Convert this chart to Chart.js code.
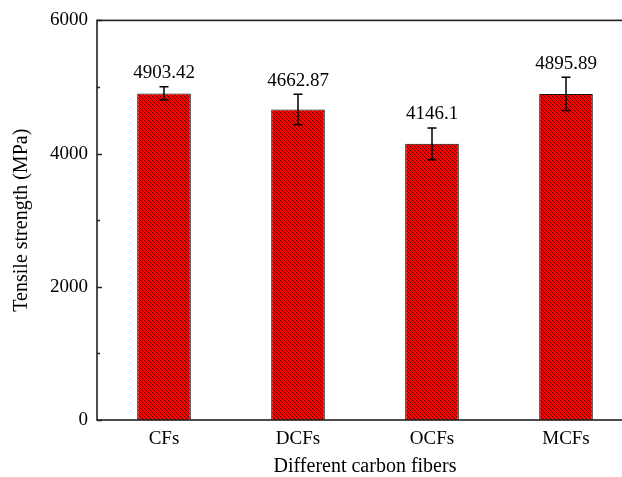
<!DOCTYPE html>
<html>
<head>
<meta charset="utf-8">
<script src="https://cdn.jsdelivr.net/npm/chart.js@4"></script>
<style>
  html, body { margin: 0; padding: 0; background: #fff; overflow: hidden; }
  #wrap { width: 650px; height: 477px; }
</style>
</head>
<body>
<div id="wrap"><canvas id="myChart" width="650" height="477"></canvas></div>
<script>
// data
const categories = ["CFs", "DCFs", "OCFs", "MCFs"];
const strengths = [4903.42, 4662.87, 4146.1, 4895.89];
const errors = [100, 230, 240, 250];
const majorTicks = [0, 2000, 4000, 6000];
const minorTicks = [1000, 3000, 5000];

const FONT = "'Liberation Serif', 'Times New Roman', serif";

// red fill with dark "\" hatching, drawn pixel by pixel so it stays crisp
function makeHatch() {
  const c = document.createElement("canvas");
  c.width = 4;
  c.height = 4;
  const g = c.getContext("2d");
  g.fillStyle = "#ff0000";
  g.fillRect(0, 0, 4, 4);
  g.fillStyle = "#5a0000";
  for (let i = 0; i < 4; i++) {
    g.fillRect(i, i, 1, 1);
  }
  return g.createPattern(c, "repeat");
}

// frame, inward y ticks, error bars and value labels
const extras = {
  id: "extras",
  afterDatasetsDraw(chart) {
    const ctx = chart.ctx;
    const area = chart.chartArea;
    const y = chart.scales.y;
    const meta = chart.getDatasetMeta(0);
    ctx.save();

    // error bars
    ctx.strokeStyle = "#000";
    ctx.lineWidth = 1.5;
    meta.data.forEach((bar, i) => {
      const top = y.getPixelForValue(strengths[i] + errors[i]);
      const bot = y.getPixelForValue(strengths[i] - errors[i]);
      ctx.beginPath();
      ctx.moveTo(bar.x, top); ctx.lineTo(bar.x, bot);
      ctx.moveTo(bar.x - 4.5, top); ctx.lineTo(bar.x + 4.5, top);
      ctx.moveTo(bar.x - 4.5, bot); ctx.lineTo(bar.x + 4.5, bot);
      ctx.stroke();

      ctx.fillStyle = "#000";
      ctx.font = "19px " + FONT;
      ctx.textAlign = "center";
      ctx.textBaseline = "alphabetic";
      ctx.fillText(String(strengths[i]), bar.x, top - 8.5);
    });

    // axis frame
    ctx.strokeStyle = "#222";
    ctx.lineWidth = 1.6;
    ctx.strokeRect(area.left, area.top, area.right - area.left, area.bottom - area.top);

    // ticks pointing into the plot
    ctx.lineWidth = 1.3;
    ctx.beginPath();
    majorTicks.forEach((v) => {
      const py = Math.round(y.getPixelForValue(v)) + 0.5;
      ctx.moveTo(area.left, py); ctx.lineTo(area.left + 5, py);
    });
    minorTicks.forEach((v) => {
      const py = Math.round(y.getPixelForValue(v)) + 0.5;
      ctx.moveTo(area.left, py); ctx.lineTo(area.left + 3, py);
    });
    ctx.stroke();
    ctx.restore();
  },
};

const config = {
  type: "bar",
  data: {
    labels: categories,
    datasets: [
      {
        data: strengths,
        backgroundColor: makeHatch(),
        borderColor: "#111",
        borderWidth: 1,
        barPercentage: 0.4,
        categoryPercentage: 1.0,
      },
    ],
  },
  options: {
    responsive: false,
    animation: false,
    devicePixelRatio: 1,
    layout: { padding: { top: 20, right: 17, left: 0, bottom: 0 } },
    plugins: {
      legend: { display: false },
      tooltip: { enabled: false },
    },
    scales: {
      x: {
        grid: { display: false, drawTicks: false },
        border: { display: false },
        ticks: { color: "#000", padding: 8, font: { family: FONT, size: 19 } },
        title: {
          display: true,
          text: "Different carbon fibers",
          color: "#000",
          padding: { top: 0, bottom: 0 },
          font: { family: FONT, size: 20, lineHeight: 1 },
        },
        afterFit: (scale) => { scale.height = 57; },
      },
      y: {
        min: 0,
        max: 6000,
        afterBuildTicks: (scale) => {
          scale.ticks = majorTicks.map((v) => ({ value: v }));
        },
        grid: { display: false, drawTicks: false },
        border: { display: false },
        ticks: {
          color: "#000",
          padding: 9,
          font: { family: FONT, size: 19 },
          callback: (v) => String(v),
        },
        title: {
          display: true,
          text: "Tensile strength (MPa)",
          color: "#000",
          padding: { top: 12, bottom: 0 },
          font: { family: FONT, size: 20, lineHeight: 1 },
        },
        afterFit: (scale) => { scale.width = 97; },
      },
    },
  },
  plugins: [extras],
};

new Chart(document.getElementById("myChart"), config);
</script>
</body>
</html>
